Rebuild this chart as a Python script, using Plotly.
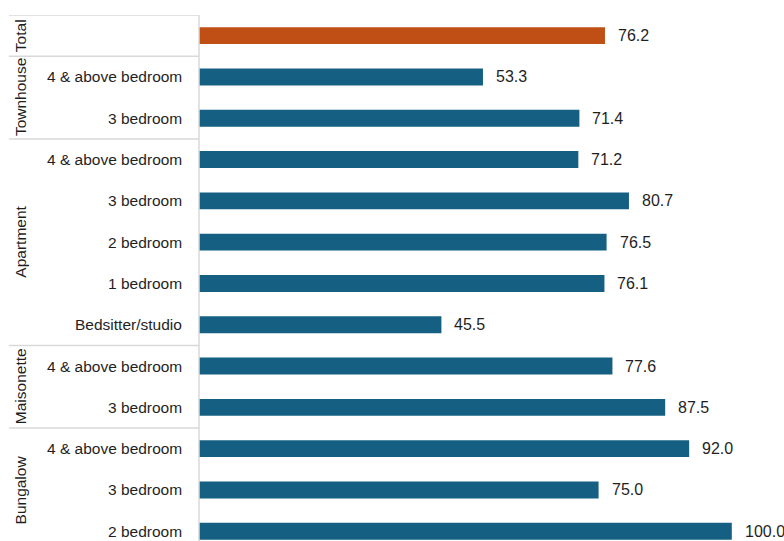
import plotly.graph_objects as go

groups = ["Total", "Townhouse", "Townhouse", "Apartment", "Apartment", "Apartment", "Apartment", "Apartment",
          "Maisonette", "Maisonette", "Bungalow", "Bungalow", "Bungalow"]
labels = ["", "4 & above bedroom", "3 bedroom", "4 & above bedroom", "3 bedroom", "2 bedroom", "1 bedroom",
          "Bedsitter/studio", "4 & above bedroom", "3 bedroom", "4 & above bedroom", "3 bedroom", "2 bedroom"]
values = [76.2, 53.3, 71.4, 71.2, 80.7, 76.5, 76.1, 45.5, 77.6, 87.5, 92.0, 75.0, 100.0]

BLUE = "#156082"
ORANGE = "#C04F15"
GRID = "#D9D9D9"
TXT = "#1F1F1F"

rows = list(range(len(values)))
colors = [ORANGE if g == "Total" else BLUE for g in groups]

fig = go.Figure()
fig.add_trace(go.Bar(
    x=values, y=rows, orientation="h", width=0.41,
    marker=dict(color=colors, line=dict(width=0)),
    hoverinfo="skip",
))

annotations = []
for r, v in zip(rows, values):
    annotations.append(dict(x=v, y=r, xref="x", yref="y", text=f"{v:.1f}", showarrow=False,
                            xanchor="left", yanchor="middle", xshift=11,
                            font=dict(family="Liberation Sans, Arial", size=16, color=TXT)))
for r, lab in zip(rows, labels):
    if lab:
        annotations.append(dict(x=0, y=r, xref="paper", yref="y", text=lab, showarrow=False,
                                xanchor="right", yanchor="middle", xshift=-15,
                                font=dict(family="Liberation Sans, Arial", size=15.5, color=TXT)))

# group spans
spans = []
for i, g in enumerate(groups):
    if spans and spans[-1][0] == g:
        spans[-1][2] = i
    else:
        spans.append([g, i, i])

left_paper = (9 - 199) / 585
shapes = []
for g, a, b in spans:
    annotations.append(dict(x=left_paper, y=(a + b) / 2, xref="paper", yref="y", text=g, showarrow=False,
                            textangle=-90, xanchor="left", yanchor="middle", xshift=1,
                            font=dict(family="Liberation Sans, Arial", size=15.5, color=TXT)))
    shapes.append(dict(type="line", xref="paper", yref="y", x0=left_paper, x1=0, y0=a - 0.5, y1=a - 0.5,
                       line=dict(color=GRID, width=1.5)))
shapes.append(dict(type="line", xref="paper", yref="y", x0=0, x1=0, y0=-0.5, y1=len(values) - 0.5,
                   line=dict(color=GRID, width=1.5)))

fig.update_layout(
    width=784, height=541,
    margin=dict(l=199, r=0, t=15, b=0),
    plot_bgcolor="white", paper_bgcolor="white",
    showlegend=False,
    xaxis=dict(range=[0, 109.8], visible=False, fixedrange=True),
    yaxis=dict(range=[12.236, -0.5], visible=False, fixedrange=True),
    annotations=annotations,
    shapes=shapes,
)

fig.write_html("out.html")
